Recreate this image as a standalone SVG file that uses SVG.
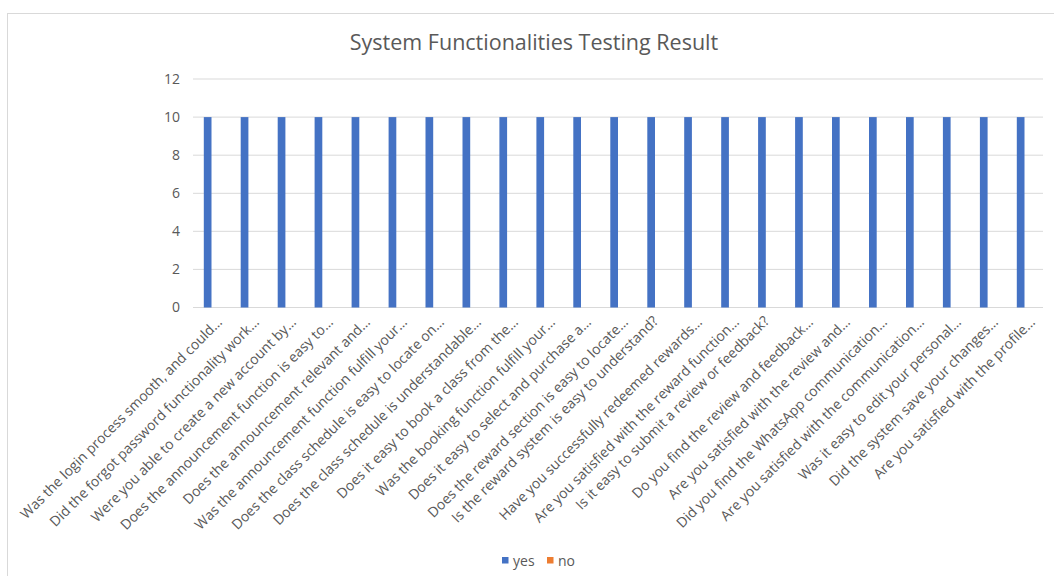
<svg xmlns="http://www.w3.org/2000/svg" width="1054" height="576" viewBox="0 0 1054 576">
<style>
text{font-family:"Open Sans","Liberation Sans",sans-serif;fill:#595959}
.grid{stroke:#d9d9d9;stroke-width:1}
.yl{font-size:14px;text-anchor:end}
.xl{font-size:14px;text-anchor:end}
.bar{fill:#4472C4}
.title{font-size:21.5px;text-anchor:middle}
.leg{font-size:14px}
</style>
<rect x="0" y="0" width="1054" height="576" fill="#ffffff"/>
<rect x="7.5" y="13.5" width="1100" height="600" fill="#ffffff" stroke="#d9d9d9" stroke-width="1"/>
<text class="title" x="534" y="50">System Functionalities Testing Result</text>
<g id="gridlines">
<line class="grid" x1="193" y1="79" x2="1043" y2="79"/>
<line class="grid" x1="193" y1="117.1" x2="1043" y2="117.1"/>
<line class="grid" x1="193" y1="155.2" x2="1043" y2="155.2"/>
<line class="grid" x1="193" y1="193.3" x2="1043" y2="193.3"/>
<line class="grid" x1="193" y1="231.3" x2="1043" y2="231.3"/>
<line class="grid" x1="193" y1="269.4" x2="1043" y2="269.4"/>
<line class="grid" x1="193" y1="307.5" x2="1043" y2="307.5"/>
</g>
<g id="yaxis">
<text class="yl" x="180" y="84">12</text>
<text class="yl" x="180" y="122">10</text>
<text class="yl" x="180" y="160">8</text>
<text class="yl" x="180" y="198">6</text>
<text class="yl" x="180" y="236">4</text>
<text class="yl" x="180" y="274">2</text>
<text class="yl" x="180" y="312">0</text>
</g>
<g id="bars">
<rect class="bar" x="203.8" y="117.1" width="7.7" height="190.4"/>
<rect class="bar" x="240.7" y="117.1" width="7.7" height="190.4"/>
<rect class="bar" x="277.7" y="117.1" width="7.7" height="190.4"/>
<rect class="bar" x="314.6" y="117.1" width="7.7" height="190.4"/>
<rect class="bar" x="351.6" y="117.1" width="7.7" height="190.4"/>
<rect class="bar" x="388.6" y="117.1" width="7.7" height="190.4"/>
<rect class="bar" x="425.5" y="117.1" width="7.7" height="190.4"/>
<rect class="bar" x="462.5" y="117.1" width="7.7" height="190.4"/>
<rect class="bar" x="499.4" y="117.1" width="7.7" height="190.4"/>
<rect class="bar" x="536.4" y="117.1" width="7.7" height="190.4"/>
<rect class="bar" x="573.3" y="117.1" width="7.7" height="190.4"/>
<rect class="bar" x="610.3" y="117.1" width="7.7" height="190.4"/>
<rect class="bar" x="647.3" y="117.1" width="7.7" height="190.4"/>
<rect class="bar" x="684.2" y="117.1" width="7.7" height="190.4"/>
<rect class="bar" x="721.2" y="117.1" width="7.7" height="190.4"/>
<rect class="bar" x="758.1" y="117.1" width="7.7" height="190.4"/>
<rect class="bar" x="795.1" y="117.1" width="7.7" height="190.4"/>
<rect class="bar" x="832.0" y="117.1" width="7.7" height="190.4"/>
<rect class="bar" x="869.0" y="117.1" width="7.7" height="190.4"/>
<rect class="bar" x="906.0" y="117.1" width="7.7" height="190.4"/>
<rect class="bar" x="942.9" y="117.1" width="7.7" height="190.4"/>
<rect class="bar" x="979.9" y="117.1" width="7.7" height="190.4"/>
<rect class="bar" x="1016.8" y="117.1" width="7.7" height="190.4"/>
</g>
<g id="xaxis">
<text class="xl" transform="translate(223,323) rotate(-45)">Was the login process smooth, and could…</text>
<text class="xl" transform="translate(260,323) rotate(-45)">Did the forgot password functionality work…</text>
<text class="xl" transform="translate(297,323) rotate(-45)">Were you able to create a new account by…</text>
<text class="xl" transform="translate(334,323) rotate(-45)">Does the announcement function is easy to…</text>
<text class="xl" transform="translate(371,323) rotate(-45)">Does the announcement relevant and…</text>
<text class="xl" transform="translate(408,323) rotate(-45)">Was the announcement function fulfill your…</text>
<text class="xl" transform="translate(445,323) rotate(-45)">Does the class schedule is easy to locate on…</text>
<text class="xl" transform="translate(482,323) rotate(-45)">Does the class schedule is understandable…</text>
<text class="xl" transform="translate(519,323) rotate(-45)">Does it easy to book a class from the…</text>
<text class="xl" transform="translate(556,323) rotate(-45)">Was the booking function fulfill your…</text>
<text class="xl" transform="translate(592,323) rotate(-45)">Does it easy to select and purchase a…</text>
<text class="xl" transform="translate(629,323) rotate(-45)">Does the reward section is easy to locate…</text>
<text class="xl" transform="translate(659,322) rotate(-45)">Is the reward system is easy to understand?</text>
<text class="xl" transform="translate(703,323) rotate(-45)">Have you successfully redeemed rewards…</text>
<text class="xl" transform="translate(740,323) rotate(-45)">Are you satisfied with the reward function…</text>
<text class="xl" transform="translate(770,322) rotate(-45)">Is it easy to submit a review or feedback?</text>
<text class="xl" transform="translate(814,323) rotate(-45)">Do you find the review and feedback…</text>
<text class="xl" transform="translate(851,323) rotate(-45)">Are you satisfied with the review and…</text>
<text class="xl" transform="translate(888,323) rotate(-45)">Did you find the WhatsApp communication…</text>
<text class="xl" transform="translate(925,323) rotate(-45)">Are you satisfied with the communication…</text>
<text class="xl" transform="translate(962,323) rotate(-45)">Was it easy to edit your personal…</text>
<text class="xl" transform="translate(999,323) rotate(-45)">Did the system save your changes…</text>
<text class="xl" transform="translate(1036,323) rotate(-45)">Are you satisfied with the profile…</text>
</g>
<g id="legend">
<rect x="502" y="557" width="6.5" height="6.5" fill="#4472C4"/>
<text class="leg" x="513" y="566">yes</text>
<rect x="547" y="557" width="6.5" height="6.5" fill="#ED7D31"/>
<text class="leg" x="558" y="566">no</text>
</g>
</svg>
